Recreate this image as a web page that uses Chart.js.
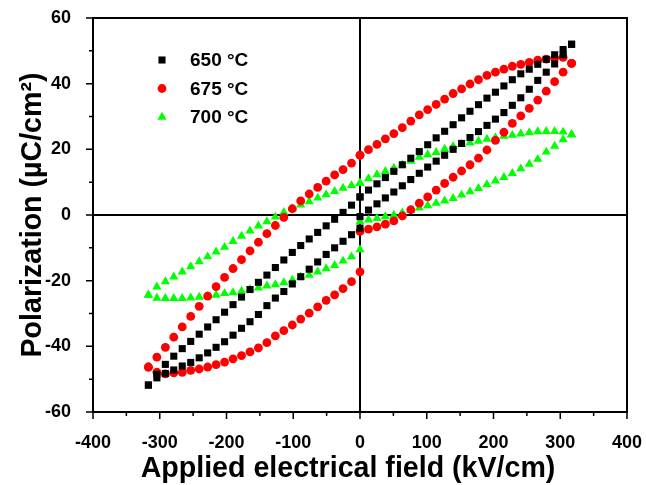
<!DOCTYPE html>
<html><head><meta charset="utf-8">
<script src="https://cdn.jsdelivr.net/npm/chart.js@4/dist/chart.umd.min.js"></script>
<style>html,body{margin:0;padding:0;background:#fff}#wrap{width:646px;height:485px}</style>
</head><body><div id="wrap"><canvas id="c" width="646" height="485"></canvas></div>
<script>
// |E| grid of the loop measurement (kV/cm)
const fieldMag = [0, 12.7, 25.4, 38.0, 50.7, 63.4, 76.1, 88.8, 101.4, 114.1, 126.8, 139.5, 152.2, 164.8, 177.5, 190.2, 202.9, 215.6, 228.2, 240.9, 253.6, 266.3, 279.0, 291.6, 304.3, 317.0];

const xTickLabels = [-400, -300, -200, -100, 0, 100, 200, 300, 400];
const yTickLabels = [-60, -40, -20, 0, 20, 40, 60];
const seriesNames = ['650 \u00B0C', '675 \u00B0C', '700 \u00B0C'];

// 650 °C (black squares)
const p650UpperPos = [5.5, 7.6, 9.5, 11.4, 13.3, 15.3, 17.3, 19.3, 21.4, 23.5, 25.5, 27.5, 29.6, 31.6, 33.6, 35.6, 37.4, 39.3, 41.2, 43.0, 44.4, 45.9, 47.4, 48.8, 50.4, 52.0];
const p650UpperNeg = [5.5, 3.0, 0.8, -1.3, -3.3, -5.3, -7.3, -9.3, -11.4, -13.7, -16.0, -18.3, -20.5, -22.7, -25.0, -27.3, -29.6, -31.9, -34.1, -36.3, -38.5, -40.7, -43.0, -45.5, -48.5, -51.8];
const p650LowerNeg = [-4.0, -6.0, -8.0, -10.0, -12.0, -14.3, -16.5, -18.8, -21.0, -23.3, -25.3, -27.6, -30.3, -32.5, -34.5, -36.6, -38.6, -40.3, -42.0, -43.5, -44.9, -46.0, -47.2, -48.3, -49.6, -51.8];
const p650LowerPos = [-0.5, 1.5, 3.4, 5.2, 7.0, 8.9, 10.8, 12.7, 14.6, 16.4, 18.2, 20.0, 21.8, 23.6, 25.4, 27.3, 29.2, 31.2, 33.4, 35.7, 38.3, 41.0, 43.5, 46.0, 48.8, 52.0];

// 675 °C (red circles)
const p675UpperPos = [18.2, 19.9, 21.5, 23.2, 24.8, 26.6, 28.6, 30.5, 32.1, 33.7, 35.3, 37.0, 38.4, 39.9, 41.2, 42.5, 43.5, 44.4, 45.3, 45.9, 46.5, 47.2, 47.5, 47.8, 48.0, 46.2];
const p675UpperNeg = [18.2, 15.8, 13.8, 12.2, 10.3, 8.4, 6.4, 4.3, 1.9, -0.7, -3.2, -5.7, -8.3, -10.9, -13.6, -16.3, -19.0, -21.8, -24.7, -27.8, -30.9, -34.1, -37.2, -40.3, -43.3, -46.3];
const p675LowerNeg = [-17.3, -20.3, -22.4, -24.3, -26.0, -28.0, -29.9, -31.7, -33.5, -35.2, -36.8, -38.9, -40.5, -41.7, -42.8, -43.8, -44.8, -45.6, -46.3, -46.9, -47.3, -47.9, -48.1, -48.4, -47.9, -46.3];
const p675LowerPos = [-5.0, -4.3, -3.6, -2.8, -1.8, -0.3, 1.6, 3.6, 5.5, 7.6, 9.6, 11.5, 13.4, 15.3, 17.3, 19.8, 22.7, 25.2, 27.9, 30.2, 32.5, 35.0, 37.7, 40.6, 43.5, 46.2];

// 700 °C (green triangles)
const p700UpperPos = [9.7, 11.1, 12.3, 13.3, 14.3, 15.3, 16.4, 17.6, 18.4, 19.1, 20.1, 20.9, 21.5, 22.0, 22.5, 23.1, 23.6, 24.0, 24.3, 24.7, 25.1, 25.4, 25.5, 25.5, 25.3, 24.5];
const p700UpperNeg = [9.7, 9.0, 8.2, 7.2, 6.2, 5.2, 4.1, 3.1, 2.0, 0.8, -0.6, -2.0, -3.3, -4.8, -6.4, -8.0, -9.8, -11.2, -12.7, -14.2, -15.7, -17.3, -18.8, -20.3, -21.9, -24.4];
const p700LowerNeg = [-10.5, -12.7, -14.0, -15.3, -16.3, -17.3, -18.3, -18.8, -19.8, -20.6, -21.2, -21.6, -22.2, -22.6, -23.2, -23.6, -23.9, -24.4, -24.7, -25.0, -25.2, -25.4, -25.4, -25.4, -25.3, -24.4];
const p700LowerPos = [-2.0, -1.5, -1.0, -0.5, 0.0, 0.7, 1.4, 2.2, 2.9, 3.6, 4.3, 5.1, 6.1, 7.1, 8.1, 9.3, 10.4, 11.5, 12.7, 14.1, 15.5, 17.0, 19.2, 21.0, 23.0, 24.5];

function buildLoop(upPos, upNeg, lowNeg, lowPos) {
  const pts = [];
  fieldMag.forEach((e, i) => pts.push({x: e, y: lowPos[i]}));
  for (let i = fieldMag.length - 1; i >= 0; i--) pts.push({x: fieldMag[i], y: upPos[i]});
  fieldMag.forEach((e, i) => pts.push({x: -e, y: upNeg[i]}));
  for (let i = fieldMag.length - 1; i >= 0; i--) pts.push({x: -fieldMag[i], y: lowNeg[i]});
  return pts;
}

const FONT = "'Liberation Sans', Arial, sans-serif";

const decorPlugin = {
  id: 'decor',
  beforeDatasetsDraw(chart) {
    const {ctx, chartArea: a, scales: {x, y}} = chart;
    ctx.save();
    ctx.strokeStyle = '#000';
    ctx.lineWidth = 2;
    const x0 = x.getPixelForValue(0), y0 = y.getPixelForValue(0);
    ctx.beginPath();
    ctx.moveTo(x0, a.top); ctx.lineTo(x0, a.bottom);
    ctx.moveTo(a.left, y0); ctx.lineTo(a.right, y0);
    ctx.stroke();
    ctx.restore();
  },
  afterDraw(chart) {
    const {ctx, chartArea: a, scales: {x, y}} = chart;
    ctx.save();
    ctx.strokeStyle = '#000';
    ctx.lineWidth = 2;
    ctx.strokeRect(a.left, a.top, a.right - a.left, a.bottom - a.top);
    ctx.lineWidth = 1.5;
    ctx.beginPath();
    for (let i = 0; i < xTickLabels.length; i++) {
      const px = x.getPixelForValue(xTickLabels[i]);
      ctx.moveTo(px, a.bottom); ctx.lineTo(px, a.bottom + 7);
      if (i < xTickLabels.length - 1) {
        const pm = x.getPixelForValue((xTickLabels[i] + xTickLabels[i + 1]) / 2);
        ctx.moveTo(pm, a.bottom); ctx.lineTo(pm, a.bottom + 4);
      }
    }
    for (let i = 0; i < yTickLabels.length; i++) {
      const py = y.getPixelForValue(yTickLabels[i]);
      ctx.moveTo(a.left, py); ctx.lineTo(a.left - 7, py);
      if (i < yTickLabels.length - 1) {
        const pm = y.getPixelForValue((yTickLabels[i] + yTickLabels[i + 1]) / 2);
        ctx.moveTo(a.left, pm); ctx.lineTo(a.left - 4, pm);
      }
    }
    ctx.stroke();

    // axis titles
    ctx.fillStyle = '#000';
    ctx.font = 'bold 28.6px ' + FONT;
    ctx.textAlign = 'center';
    ctx.textBaseline = 'alphabetic';
    ctx.fillText('Applied electrical field (kV/cm)', (a.left + a.right) / 2 - 12, 477);
    ctx.save();
    ctx.translate(41, (a.top + a.bottom) / 2);
    ctx.rotate(-Math.PI / 2);
    ctx.fillText('Polarization (\u00B5C/cm\u00B2)', 0, 0);
    ctx.restore();

    // legend
    const ds = chart.data.datasets;
    const lx = a.left + 69, ly0 = a.top + 42;
    const step = 28.5;
    ctx.font = 'bold 19px ' + FONT;
    ctx.textAlign = 'left';
    ctx.textBaseline = 'middle';
    ds.forEach((d, i) => {
      const cy = ly0 + i * step;
      ctx.fillStyle = d.backgroundColor;
      const r = d.pointRadius;
      ctx.beginPath();
      if (d.pointStyle === 'rect') {
        const h = r * Math.SQRT1_2;
        ctx.rect(lx - h, cy - h, 2 * h, 2 * h);
      } else if (d.pointStyle === 'circle') {
        ctx.arc(lx, cy, r, 0, Math.PI * 2);
      } else {
        ctx.moveTo(lx, cy - r);
        ctx.lineTo(lx + r * Math.sin(2 * Math.PI / 3), cy - r * Math.cos(2 * Math.PI / 3));
        ctx.lineTo(lx + r * Math.sin(4 * Math.PI / 3), cy - r * Math.cos(4 * Math.PI / 3));
        ctx.closePath();
      }
      ctx.fill();
      ctx.fillStyle = '#000';
      ctx.fillText(seriesNames[i], lx + 28, cy + 1);
    });
    ctx.restore();
  }
};

new Chart(document.getElementById('c'), {
  type: 'scatter',
  data: {
    datasets: [
      {label: seriesNames[0], data: buildLoop(p650UpperPos, p650UpperNeg, p650LowerNeg, p650LowerPos),
       pointStyle: 'rect', pointRadius: 5, backgroundColor: '#000000', borderWidth: 0, showLine: false},
      {label: seriesNames[1], data: buildLoop(p675UpperPos, p675UpperNeg, p675LowerNeg, p675LowerPos),
       pointStyle: 'circle', pointRadius: 4.4, backgroundColor: '#ff0000', borderWidth: 0, showLine: false},
      {label: seriesNames[2], data: buildLoop(p700UpperPos, p700UpperNeg, p700LowerNeg, p700LowerPos),
       pointStyle: 'triangle', pointRadius: 5.3, backgroundColor: '#00ff00', borderWidth: 0, showLine: false}
    ]
  },
  options: {
    responsive: false,
    animation: false,
    devicePixelRatio: 1,
    layout: {autoPadding: false, padding: {top: 18, right: 19, left: 0, bottom: 0}},
    plugins: {legend: {display: false}, tooltip: {enabled: false}},
    scales: {
      x: {
        type: 'linear', min: -400, max: 400,
        afterBuildTicks: s => { s.ticks = xTickLabels.map(v => ({value: v})); },
        afterFit: s => { s.height = 73; s.paddingLeft = 0; s.paddingRight = 0; },
        grid: {display: false},
        border: {display: true, color: '#000', width: 2},
        ticks: {color: '#000', font: {family: FONT, size: 18, weight: 'bold'}, padding: 12, maxRotation: 0}
      },
      y: {
        type: 'linear', min: -60, max: 60,
        afterBuildTicks: s => { s.ticks = yTickLabels.map(v => ({value: v})); },
        afterFit: s => { s.width = 93; s.paddingTop = 0; s.paddingBottom = 0; },
        grid: {display: false},
        border: {display: true, color: '#000', width: 2},
        ticks: {color: '#000', font: {family: FONT, size: 18, weight: 'bold'}, padding: 14}
      }
    }
  },
  plugins: [decorPlugin]
});
</script>
</body></html>
